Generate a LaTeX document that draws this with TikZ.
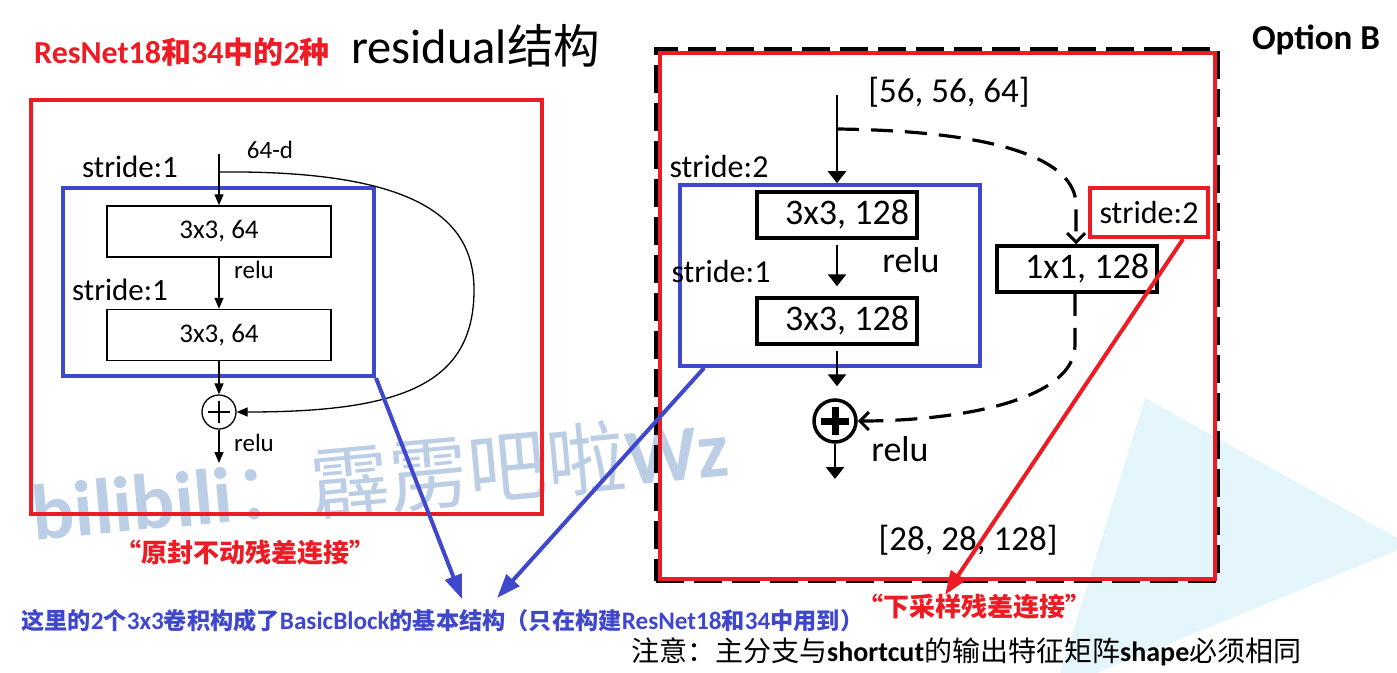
\documentclass[tikz,border=0pt]{standalone}
\usepackage{fontspec}
\setmainfont{Carlito}
\newfontfamily\cjk{Noto Sans CJK SC}
\usetikzlibrary{arrows.meta}
\newcommand\zh[1]{{\cjk #1}}
\newcommand\fs[1]{\fontsize{#1}{#1}\selectfont}
\definecolor{pred}{RGB}{237,28,36}
\definecolor{pblue}{RGB}{63,72,204}
\definecolor{wmark}{RGB}{176,198,226}
\definecolor{trifill}{RGB}{229,245,252}
\tikzset{
  lbox/.style={draw, line width=1.5pt, minimum width=224pt, minimum height=51pt, inner sep=0pt, font=\fs{27}},
  rbox/.style={draw, line width=3.5pt, minimum width=160pt, minimum height=46pt, inner sep=0pt, font=\fs{36}},
  grpblue/.style={draw=pblue, line width=4pt, inner sep=0pt},
  grpred/.style={draw=pred, line width=4pt, inner sep=0pt},
  larrow/.style={line width=1.3pt, -{Triangle[length=11pt,width=9pt]}},
  rarrow/.style={line width=2.8pt, -{Triangle[length=12pt,width=18pt]}},
  dasharrow/.style={line width=3.2pt, dash pattern=on 22pt off 12pt, -{Straight Barb[length=9pt,width=18pt,line width=3pt]}},
  annblue/.style={draw=pblue, line width=4pt, -{Triangle[length=24pt,width=17pt]}},
  annred/.style={draw=pred, line width=4pt, -{Triangle[length=24pt,width=17pt]}},
  lab/.style={inner sep=0pt},
}
\begin{document}
\begin{tikzpicture}[x=1pt,y=-1pt]
\useasboundingbox (0,0) rectangle (1397,672);
% background triangle
\fill[trifill] (1145,398) -- (1410,545) -- (1055,690) -- cycle;
% watermark
\node[lab, text=wmark, opacity=0.85, rotate=5.3, font=\fs{79}] (wm) at (380,478) {\bfseries bilibili\zh{\mdseries ：霹雳吧啦}Wz};

% titles
\node[lab, anchor=west, text=pred, font=\fs{32}\bfseries] (title1) at (34,52) {ResNet18\zh{\fs{30}和}34\zh{\fs{30}中的}2\zh{\fs{30}种}};
\node[lab, anchor=west, font=\fs{48.5}] (title2) at (351,46) {residual\zh{\fs{46.5}结构}};

% ---------- left diagram ----------
\node[grpred, minimum width=511pt, minimum height=414pt] (lred) at (286.5,307) {};
\node[grpblue, minimum width=311pt, minimum height=188pt] (lblue) at (218.5,282) {};
\node[lbox] (lb1) at (219,231.5) {3x3, 64};
\node[lbox] (lb2) at (219,335) {3x3, 64};
\node[draw, circle, line width=1.3pt, minimum size=34pt, inner sep=0pt] (lsum) at (219,412) {};
\draw[line width=1.3pt] ([xshift=-11pt]lsum.center) -- ([xshift=11pt]lsum.center)
      ([yshift=-11pt]lsum.center) -- ([yshift=11pt]lsum.center);
\coordinate (lin) at (219,154);
\coordinate (lsplit) at (219,172);
\coordinate (lout) at (219,463);
\draw[larrow] (lin) -- (lb1.north);
\draw[larrow] (lb1.south) -- (lb2.north);
\draw[larrow] (lb2.south) -- (lsum.north);
\draw[larrow] (lsum.south) -- (lout);
\draw[larrow] (lsplit) .. controls (420,170) and (474,220) .. (474,290)
      .. controls (474,385) and (400,412) .. (lsum.east);
\node[lab, font=\fs{25}] (l64d) at (270,150) {64-d};
\node[lab, font=\fs{31}] (lst1) at (130,167) {stride:1};
\node[lab, font=\fs{25}] (lrelu1) at (254,270) {relu};
\node[lab, font=\fs{31}] (lst2) at (120,290) {stride:1};
\node[lab, font=\fs{25}] (lrelu2) at (254,443) {relu};

% ---------- right diagram ----------
\node[draw, line width=4pt, dash pattern=on 28pt off 10pt, minimum width=562pt, minimum height=532pt, inner sep=0pt] (rdash) at (937,315) {};
\node[grpred, minimum width=555pt, minimum height=526pt] (rred) at (937.5,316) {};
\node[grpblue, line width=3.6pt, minimum width=300pt, minimum height=181pt] (rblue) at (830,275.5) {};
\node[rbox] (rb1) at (837,215) {\hspace*{20pt}3x3, 128};
\node[rbox] (rb2) at (837,321) {\hspace*{20pt}3x3, 128};
\node[rbox] (r1x1) at (1077,269) {\hspace*{20pt}1x1, 128};
\node[grpred, minimum width=118pt, minimum height=49pt, font=\fs{32}] (rst) at (1149,212.5) {stride:2};
\node[draw, circle, line width=3.5pt, minimum size=42pt, inner sep=0pt] (rsum) at (835,421) {};
\draw[line width=7pt] ([xshift=-14pt]rsum.center) -- ([xshift=14pt]rsum.center)
      ([yshift=-14pt]rsum.center) -- ([yshift=14pt]rsum.center);
\coordinate (rin) at (837,95);
\coordinate (rsplit) at (837,129);
\coordinate (rout) at (835,479);
\draw[rarrow] (rin) -- (rb1.north |- rblue.north);
\draw[rarrow, shorten <=5pt, shorten >=10pt] (rb1.south) -- (rb2.north);
\draw[rarrow, shorten <=5pt, shorten >=12pt] (rb2.south) -- (rsum.north -| rb2.south);
\draw[rarrow] (rsum.south) -- (rout);
\draw[dasharrow] (rsplit) .. controls (1000,131) and (1076,160) .. (1076,205) -- ([xshift=-1pt]r1x1.north);
\draw[dasharrow] ([xshift=-2pt]r1x1.south) -- (1075,345) .. controls (1075,400) and (960,421) .. (rsum.east);
\node[lab, font=\fs{35}] (rinlab) at (949,92) {[56, 56, 64]};
\node[lab, font=\fs{32}] (rst2) at (719,167) {stride:2};
\node[lab, font=\fs{36}] (rrelu1) at (911,260) {relu};
\node[lab, font=\fs{32}] (rst1) at (721,272) {stride:1};
\node[lab, font=\fs{36}] (rrelu2) at (900,449) {relu};
\node[lab, font=\fs{35}] (routlab) at (968,540) {[28, 28, 128]};
\node[lab, font=\fs{35}\bfseries] (optb) at (1316,40) {Option B};

% ---------- annotations ----------
\node[lab, text=pred, font=\fs{26}\bfseries] (lnote) at (245,553) {\zh{“原封不动残差连接”}};
\node[lab, text=pred, font=\fs{26}\bfseries] (rnote) at (974,607) {\zh{“下采样残差连接”}};
\node[lab, anchor=west, text=pblue, font=\fs{23.2}\bfseries] (bnote) at (21,621)
  {\zh{这里的}{\fs{25.2}2}\zh{个}{\fs{25.2}3x3}\zh{卷积构成了}{\fs{25.2}BasicBlock}\zh{的基本结构（只在构建}{\fs{25.2}ResNet18}\zh{和}{\fs{25.2}34}\zh{中用到）}};
\node[lab, anchor=west, font=\fs{28}] (warn) at (631,652)
  {\zh{注意：主分支与}\textbf{shortcut}\zh{的输出特征矩阵}\textbf{shape}\zh{必须相同}};
\coordinate (bt1) at (462,599);
\coordinate (bt2) at (497,598);
\coordinate (rt) at (945,595);
\draw[annblue] (lblue.south east) -- (bt1);
\draw[annblue] ([xshift=26pt]rblue.south west) -- (bt2);
\draw[annred] ([xshift=-27pt]rst.south east) -- (rt);
\end{tikzpicture}
\end{document}
